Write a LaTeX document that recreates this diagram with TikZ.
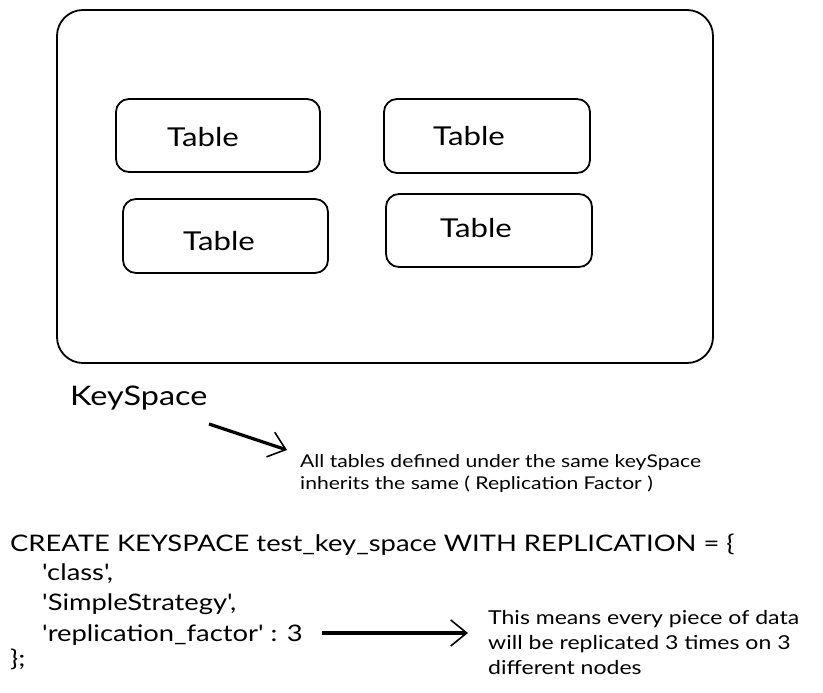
\documentclass[tikz,border=0pt]{standalone}
\usepackage{fontspec}
\setmainfont{Lato}[FakeStretch=1.2, Ligatures=TeXOff]
\usetikzlibrary{arrows.meta}
\begin{document}
\begin{tikzpicture}[x=1pt,y=-1pt,
  outer/.style={draw, line width=1.8pt, rounded corners=26pt},
  tbox/.style={draw, line width=1.8pt, rounded corners=13pt},
  tlabel/.style={font=\fontsize{26}{30}\selectfont, inner sep=0pt},
  big/.style={font=\fontsize{27}{32}\selectfont, inner sep=0pt, anchor=base west},
  code/.style={font=\fontsize{22.8}{26}\selectfont, inner sep=0pt, anchor=base west},
  note/.style={font=\fontsize{17.6}{22}\selectfont, inner sep=0pt, anchor=base west},
  notebig/.style={font=\fontsize{19.2}{22}\selectfont, inner sep=0pt, anchor=base west},
  arr/.style={line width=3.2pt, -{Straight Barb[length=16pt, width=26pt, line width=1.6pt]}}]
\useasboundingbox (0,0) rectangle (823,693);

% keyspace container
\draw[outer] (57,10) rectangle (713,363);

% tables
\draw[tbox] (116,99) rectangle (320,172);
\draw[tbox] (384,99) rectangle (590,173);
\draw[tbox] (123,199) rectangle (328,273);
\draw[tbox] (386,194) rectangle (592,267);
\node[tlabel] (t1) at (203,137) {Table};
\node[tlabel] (t2) at (469,136) {Table};
\node[tlabel] (t3) at (219,241) {Table};
\node[tlabel] (t4) at (476,228) {Table};

% keyspace label
\node[big] (ks) at (70,405) {KeySpace};

% note 1
\node[note] (n1a) at (300,467) {All tables defined under the same keySpace};
\node[note] (n1b) at (300,489) {inherits the same ( Replication Factor )};
\coordinate (a1s) at (209,424);
\coordinate (a1e) at (287,450);
\draw[arr] (a1s) -- (a1e);

% code
\node[code] (c1) at (10,551) {CREATE KEYSPACE test\_key\_space WITH REPLICATION = \{};
\node[code] (c2) at (42,580) {'class',};
\node[code] (c3) at (42,610) {'SimpleStrategy',};
\node[code] (c4) at (42,641) {'replication\_factor' : 3};
\node[code] (c5) at (10,666) {\};};

% note 2
\node[notebig] (n2a) at (488,624) {This means every piece of data};
\node[notebig] (n2b) at (488,649) {will be replicated 3 times on 3};
\node[notebig] (n2c) at (488,674) {different nodes};
\coordinate (a2s) at (322,633);
\coordinate (a2e) at (468,633);
\draw[arr] (a2s) -- (a2e);
\end{tikzpicture}
\end{document}
